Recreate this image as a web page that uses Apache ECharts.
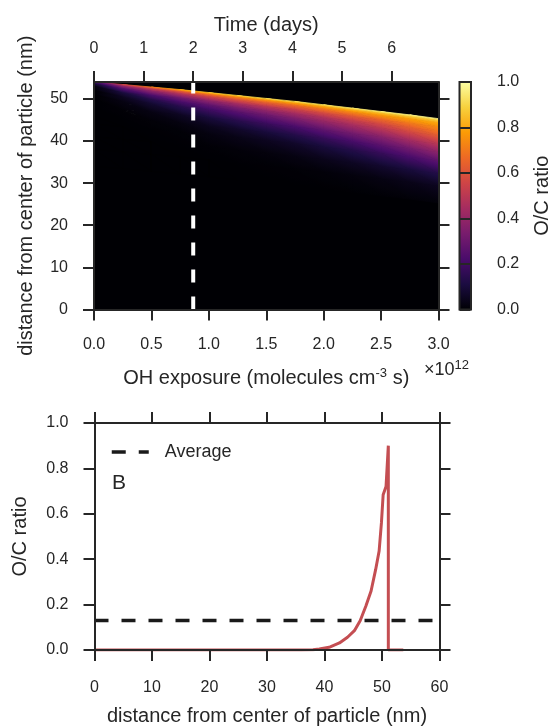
<!DOCTYPE html>
<html>
<head>
<meta charset="utf-8">
<script src="https://cdn.jsdelivr.net/npm/echarts@6/dist/echarts.min.js"></script>
<style>
  html, body { margin: 0; padding: 0; background: #ffffff; }
  #chart { width: 553px; height: 727px; }
</style>
</head>
<body>
<div id="chart"></div>
<script>
// ---- Panel A: O/C ratio below the particle surface vs. OH exposure ----
// OH exposure columns, in units of 10^12 molecules cm^-3 s
const exposureCols = [0, 0.25, 0.5, 0.75, 1.0, 1.25, 1.5, 1.75, 2.0, 2.25, 2.5, 2.75, 3.0];
// particle radius (nm) at each exposure column
const surfaceRadius = [54.0, 53.4, 52.8, 52.2, 51.5, 50.8, 50.1, 49.4, 48.6, 47.8, 47.0, 46.2, 45.3];
// depth below the surface (nm) of each grid row
const depthRows = [0, 0.5, 1, 2, 3, 4, 6, 8, 10, 13, 16, 20];
// O/C ratio, one row per exposure column, one entry per depth row
const ocGrid = [
  [0.20, 0.08, 0.02, 0.00, 0.00, 0.00, 0.00, 0.00, 0.00, 0.00, 0.00, 0.00],
  [0.55, 0.36, 0.24, 0.10, 0.05, 0.025, 0.006, 0.001, 0.00, 0.00, 0.00, 0.00],
  [0.70, 0.50, 0.38, 0.22, 0.13, 0.08, 0.025, 0.008, 0.002, 0.00, 0.00, 0.00],
  [0.80, 0.60, 0.48, 0.31, 0.21, 0.14, 0.055, 0.020, 0.006, 0.001, 0.00, 0.00],
  [0.85, 0.67, 0.55, 0.38, 0.27, 0.20, 0.10, 0.045, 0.020, 0.004, 0.00, 0.00],
  [0.88, 0.71, 0.60, 0.44, 0.33, 0.25, 0.14, 0.070, 0.033, 0.009, 0.001, 0.00],
  [0.90, 0.74, 0.64, 0.49, 0.38, 0.30, 0.18, 0.10, 0.050, 0.015, 0.003, 0.00],
  [0.91, 0.77, 0.67, 0.53, 0.43, 0.35, 0.22, 0.13, 0.070, 0.025, 0.006, 0.00],
  [0.92, 0.79, 0.70, 0.57, 0.47, 0.40, 0.27, 0.17, 0.10, 0.040, 0.010, 0.00],
  [0.93, 0.81, 0.73, 0.61, 0.52, 0.45, 0.32, 0.21, 0.13, 0.055, 0.016, 0.002],
  [0.95, 0.83, 0.76, 0.65, 0.57, 0.50, 0.37, 0.26, 0.17, 0.075, 0.025, 0.004],
  [0.96, 0.85, 0.78, 0.70, 0.63, 0.57, 0.44, 0.32, 0.22, 0.10, 0.036, 0.007],
  [0.97, 0.86, 0.80, 0.74, 0.69, 0.63, 0.50, 0.38, 0.27, 0.13, 0.050, 0.010]
];
const exposureRange = [0, 3];
const radiusRange = [0, 54];
const exposureTicks = [0, 0.5, 1.0, 1.5, 2.0, 2.5, 3.0];
const radiusTicks = [0, 10, 20, 30, 40, 50];
const dayTicks = [0, 1, 2, 3, 4, 5, 6];
const ratioTicks = [0, 0.2, 0.4, 0.6, 0.8, 1.0];
// OH concentration (molecules cm^-3) used to turn exposure into days
const ohConcentration = 5e6;
const secondsPerDay = 86400;
const markedDay = 2;

// ---- Panel B: radial O/C profile at the marked day ----
const profileDistance = [0, 36, 38, 39.1, 40.8, 42.6, 44.0, 45.2, 46.2, 47.2, 48.1, 48.9, 49.5, 49.9, 50.2, 50.7, 51.1, 51.1, 53.7];
const profileOC =       [0, 0, 0.001, 0.004, 0.012, 0.031, 0.056, 0.085, 0.129, 0.194, 0.26, 0.355, 0.436, 0.56, 0.684, 0.72, 0.90, 0, 0];
const averageOC = 0.13;
const distanceRange = [0, 60];
const distanceTicks = [0, 10, 20, 30, 40, 50, 60];

// inferno colour map, evenly spaced stops
const infernoStops = ['#000004', '#1b0c41', '#4a0c6b', '#781c6d', '#a52c60',
                      '#cf4446', '#ed6925', '#fb9b06', '#f7d13d', '#fcffa4'];

const FONT = '"Liberation Sans", Arial, sans-serif';
const INK = '#262626';
const AVG_DASH = [14, 13];

function hexRgb(h) {
  return [parseInt(h.slice(1, 3), 16), parseInt(h.slice(3, 5), 16), parseInt(h.slice(5, 7), 16)];
}
const infernoRgb = infernoStops.map(hexRgb);
function inferno(v) {
  v = Math.max(0, Math.min(1, v));
  const s = v * (infernoRgb.length - 1);
  const k = Math.min(infernoRgb.length - 2, Math.floor(s));
  const f = s - k;
  const a = infernoRgb[k], b = infernoRgb[k + 1];
  const c = [0, 1, 2].map(n => Math.round(a[n] + (b[n] - a[n]) * f));
  return 'rgb(' + c.join(',') + ')';
}

// linear gradient that reproduces the linear field through three vertex values
function triangleFill(p, v) {
  const vmin = Math.min(v[0], v[1], v[2]);
  const vmax = Math.max(v[0], v[1], v[2]);
  if (vmax - vmin < 1e-6) return inferno(vmin);
  const [x1, y1] = p[0], [x2, y2] = p[1], [x3, y3] = p[2];
  const det = (x2 - x1) * (y3 - y1) - (x3 - x1) * (y2 - y1);
  if (Math.abs(det) < 1e-9) return inferno((vmin + vmax) / 2);
  const a = ((v[1] - v[0]) * (y3 - y1) - (v[2] - v[0]) * (y2 - y1)) / det;
  const b = ((x2 - x1) * (v[2] - v[0]) - (x3 - x1) * (v[1] - v[0])) / det;
  const g2 = a * a + b * b;
  const k = v.indexOf(vmin);
  const sx = p[k][0], sy = p[k][1];
  const ex = sx + (vmax - vmin) * a / g2, ey = sy + (vmax - vmin) * b / g2;
  const stops = [];
  for (let s = 0; s <= 4; s++) {
    const t = s / 4;
    stops.push({ offset: t, color: inferno(vmin + t * (vmax - vmin)) });
  }
  return new echarts.graphic.LinearGradient(sx, sy, ex, ey, stops, true);
}

const daysMax = exposureRange[1] * 1e12 / (ohConcentration * secondsPerDay);

const cells = [];
for (let i = 0; i < exposureCols.length - 1; i++) {
  for (let j = 0; j < depthRows.length - 1; j++) cells.push([i, j]);
}

const tickStyle = { show: true, inside: false, length: 11, lineStyle: { color: INK, width: 2 } };
const lineStyle = { show: true, onZero: false, lineStyle: { color: INK, width: 2 } };
const labelStyle = { fontFamily: FONT, fontSize: 16, color: INK, margin: 26 };
const nameStyle = { fontFamily: FONT, fontSize: 20, color: INK };

const chart = echarts.init(document.getElementById('chart'), null, { renderer: 'canvas' });

chart.setOption({
  animation: false,
  backgroundColor: '#ffffff',
  textStyle: { fontFamily: FONT },
  grid: [
    { left: 94, top: 82, width: 344.5, height: 227.5, show: true, backgroundColor: infernoStops[0], borderWidth: 0 },
    { left: 459.5, top: 82, width: 13, height: 227.5, borderWidth: 0 },
    { left: 94.5, top: 423, width: 345, height: 228, borderWidth: 0 }
  ],
  xAxis: [
    {
      gridIndex: 0, type: 'value', position: 'bottom', z: 5,
      min: exposureRange[0], max: exposureRange[1], interval: 0.5,
      axisLine: lineStyle, axisTick: tickStyle, splitLine: { show: false },
      axisLabel: Object.assign({}, labelStyle, { margin: 27, formatter: v => v.toFixed(1) }),
      name: '{n|OH exposure (molecules cm}{sup|-3}{n| s)}',
      nameLocation: 'middle', nameGap: 57,
      nameTextStyle: Object.assign({}, nameStyle, {
        rich: {
          n: { fontFamily: FONT, fontSize: 20, color: INK, lineHeight: 24, verticalAlign: 'middle' },
          sup: { fontFamily: FONT, fontSize: 13, color: INK, lineHeight: 13, verticalAlign: 'top' }
        }
      })
    },
    {
      gridIndex: 0, type: 'value', position: 'top', z: 5,
      min: 0, max: daysMax, interval: 1,
      axisLine: lineStyle,
      axisTick: Object.assign({}, tickStyle, { customValues: dayTicks }),
      splitLine: { show: false },
      axisLabel: Object.assign({}, labelStyle, { margin: 25, customValues: dayTicks, formatter: v => String(Math.round(v)) }),
      name: 'Time (days)', nameLocation: 'middle', nameGap: 47, nameTextStyle: nameStyle
    },
    { gridIndex: 1, type: 'value', min: 0, max: 1, show: false },
    {
      gridIndex: 2, type: 'value', position: 'bottom', z: 5,
      min: distanceRange[0], max: distanceRange[1], interval: 10,
      axisLine: lineStyle, axisTick: tickStyle, splitLine: { show: false },
      axisLabel: Object.assign({}, labelStyle, { margin: 30 }),
      name: 'distance from center of particle (nm)', nameLocation: 'middle', nameGap: 56,
      nameTextStyle: nameStyle
    },
    {
      gridIndex: 2, type: 'value', position: 'top', z: 5,
      min: distanceRange[0], max: distanceRange[1], interval: 10,
      axisLine: lineStyle, axisTick: tickStyle, splitLine: { show: false },
      axisLabel: { show: false }
    }
  ],
  yAxis: [
    {
      gridIndex: 0, type: 'value', position: 'left', z: 5,
      min: radiusRange[0], max: radiusRange[1], interval: 10,
      axisLine: lineStyle,
      axisTick: Object.assign({}, tickStyle, { customValues: radiusTicks }),
      splitLine: { show: false },
      axisLabel: Object.assign({}, labelStyle, { customValues: radiusTicks }),
      name: 'distance from center of particle (nm)', nameLocation: 'middle', nameGap: 58,
      nameRotate: 90, nameTextStyle: nameStyle
    },
    {
      gridIndex: 0, type: 'value', position: 'right', z: 5,
      min: radiusRange[0], max: radiusRange[1], interval: 10,
      axisLine: lineStyle,
      axisTick: Object.assign({}, tickStyle, { customValues: radiusTicks }),
      splitLine: { show: false }, axisLabel: { show: false }
    },
    {
      gridIndex: 1, type: 'value', position: 'right', z: 5,
      min: 0, max: 1, interval: 0.2,
      axisLine: { show: false },
      axisTick: tickStyle, splitLine: { show: false },
      axisLabel: Object.assign({}, labelStyle, { formatter: v => v.toFixed(1) }),
      name: 'O/C ratio', nameLocation: 'middle', nameGap: 61, nameRotate: 90,
      nameTextStyle: nameStyle
    },
    {
      gridIndex: 2, type: 'value', position: 'left', z: 5,
      min: 0, max: 1, interval: 0.2,
      axisLine: lineStyle, axisTick: tickStyle, splitLine: { show: false },
      axisLabel: Object.assign({}, labelStyle, { formatter: v => v.toFixed(1) }),
      name: 'O/C ratio', nameLocation: 'middle', nameGap: 64, nameRotate: 90,
      nameTextStyle: nameStyle
    },
    {
      gridIndex: 2, type: 'value', position: 'right', z: 5,
      min: 0, max: 1, interval: 0.2,
      axisLine: lineStyle, axisTick: tickStyle, splitLine: { show: false },
      axisLabel: { show: false }
    }
  ],
  legend: {
    data: ['Average'],
    left: 105, top: 438,
    itemWidth: 37, itemHeight: 4, itemGap: 10,
    // legend key: the dashed line alone, no marker
    itemStyle: { color: 'rgba(0,0,0,0)', borderWidth: 0 },
    lineStyle: { color: '#1a1a1a', width: 3.5, type: AVG_DASH },
    textStyle: { fontFamily: FONT, fontSize: 18, color: INK, padding: [0, 0, 0, 11] },
    selectedMode: false
  },
  graphic: [
    { type: 'text', left: 123, top: 102, silent: true,
      style: { text: 'A', fill: '#ffffff', font: '21px ' + FONT } },
    { type: 'text', left: 112, top: 473, silent: true,
      style: { text: 'B', fill: INK, font: '21px ' + FONT } },
    { type: 'text', left: 424, top: 359, silent: true,
      style: {
        text: '{n|×10}{sup|12}',
        rich: {
          n: { fontFamily: FONT, fontSize: 18, fill: INK, lineHeight: 22, verticalAlign: 'middle' },
          sup: { fontFamily: FONT, fontSize: 13, fill: INK, lineHeight: 13, verticalAlign: 'top' }
        }
      } }
  ],
  series: [
    {
      // O/C field, drawn as shaded triangles that follow the shrinking surface
      type: 'custom', name: 'O/C field', xAxisIndex: 0, yAxisIndex: 0, z: 1, silent: true,
      data: cells,
      renderItem: function (params, api) {
        const i = api.value(0), j = api.value(1);
        const node = (ii, jj) => api.coord([exposureCols[ii], surfaceRadius[ii] - depthRows[jj]]);
        const p00 = node(i, j), p10 = node(i + 1, j), p01 = node(i, j + 1), p11 = node(i + 1, j + 1);
        const v00 = ocGrid[i][j], v10 = ocGrid[i + 1][j], v01 = ocGrid[i][j + 1], v11 = ocGrid[i + 1][j + 1];
        const tri = (pts, vals) => {
          const fill = triangleFill(pts, vals);
          return { type: 'polygon', shape: { points: pts }, silent: true,
                   style: { fill: fill, stroke: fill, lineWidth: 0.8 } };
        };
        return { type: 'group', children: [
          tri([p00, p10, p11], [v00, v10, v11]),
          tri([p00, p11, p01], [v00, v11, v01])
        ] };
      }
    },
    {
      // marked day on the time axis
      type: 'line', name: 'marked day', xAxisIndex: 1, yAxisIndex: 0, z: 3, silent: true,
      data: [[markedDay, radiusRange[0]], [markedDay, radiusRange[1]]],
      symbol: 'none',
      lineStyle: { color: '#ffffff', width: 4, type: [13, 14] }
    },
    {
      // colour bar
      type: 'custom', name: 'colorbar', xAxisIndex: 2, yAxisIndex: 2, z: 2, silent: true,
      data: [[0, 0]],
      renderItem: function (params, api) {
        const lo = api.coord([0, ratioTicks[0]]);
        const hi = api.coord([1, ratioTicks[ratioTicks.length - 1]]);
        const stops = infernoStops.map((c, k) => ({ offset: k / (infernoStops.length - 1), color: c }));
        return {
          type: 'rect', silent: true,
          shape: { x: lo[0], y: hi[1], width: hi[0] - lo[0], height: lo[1] - hi[1] },
          style: {
            fill: new echarts.graphic.LinearGradient(0, lo[1], 0, hi[1], stops, true),
            stroke: INK, lineWidth: 2
          }
        };
      }
    },
    {
      type: 'line', name: 'Average', xAxisIndex: 3, yAxisIndex: 3, z: 3,
      data: [[distanceRange[0], averageOC], [distanceRange[1], averageOC]],
      symbol: 'none', silent: true,
      legendIcon: 'rect',
      lineStyle: { color: '#1a1a1a', width: 3.5, type: AVG_DASH },
      itemStyle: { color: '#1a1a1a' }
    },
    {
      type: 'line', name: 'profile', xAxisIndex: 3, yAxisIndex: 3, z: 4,
      data: profileDistance.map((d, k) => [d, profileOC[k]]),
      symbol: 'none', silent: true,
      lineStyle: { color: '#c44e52', width: 3 },
      itemStyle: { color: '#c44e52' }
    }
  ]
});
</script>
</body>
</html>
